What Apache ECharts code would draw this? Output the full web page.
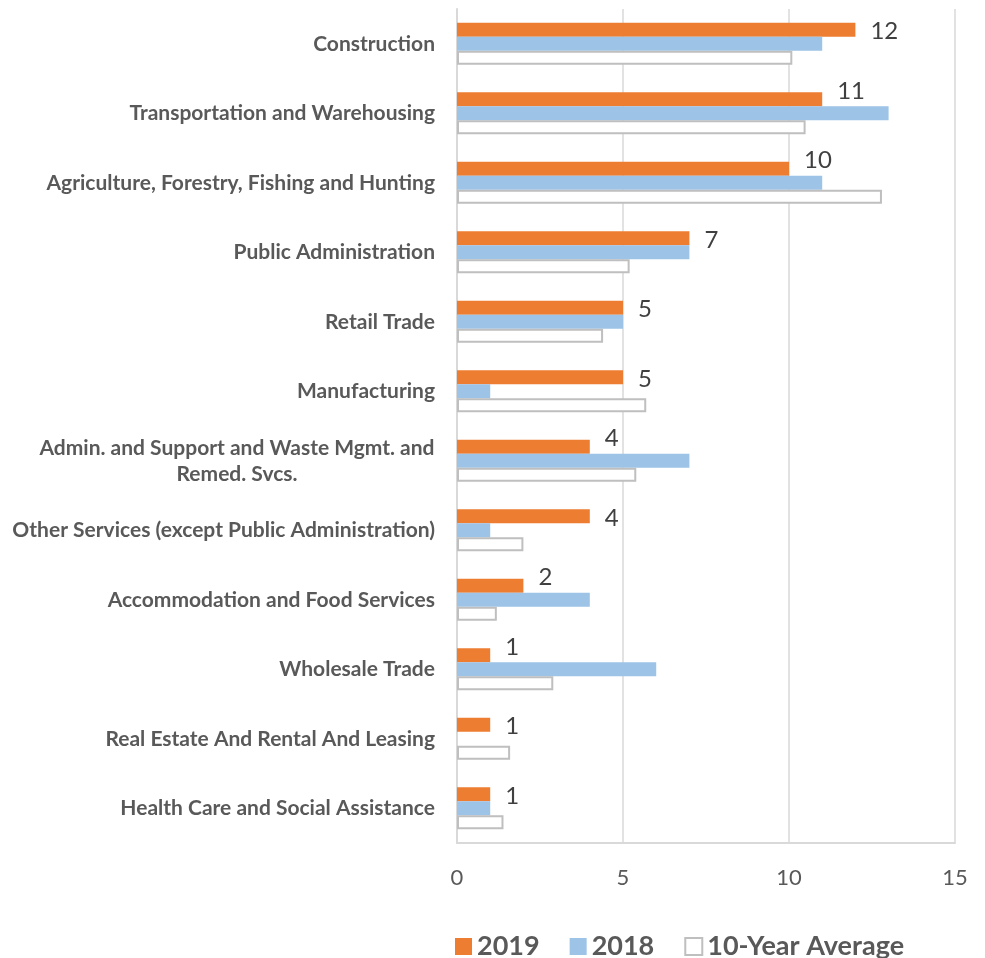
<!DOCTYPE html>
<html>
<head>
<meta charset="utf-8">
<script src="https://cdn.jsdelivr.net/npm/echarts@6/dist/echarts.min.js"></script>
<style>
  html, body { margin: 0; padding: 0; background: #fff; }
  #chart { width: 985px; height: 958px; }
</style>
</head>
<body>
<div id="chart"></div>
<script>
const industries = [
  'Construction',
  'Transportation and Warehousing',
  'Agriculture, Forestry, Fishing and Hunting',
  'Public Administration',
  'Retail Trade',
  'Manufacturing',
  'Admin. and Support and Waste Mgmt. and\nRemed. Svcs.',
  'Other Services (except Public Administration)',
  'Accommodation and Food Services',
  'Wholesale Trade',
  'Real Estate And Rental And Leasing',
  'Health Care and Social Assistance'
]
const values2019 = [12, 11, 10, 7, 5, 5, 4, 4, 2, 1, 1, 1]
const values2018 = [11, 13, 11, 7, 5, 1, 7, 1, 4, 6, 0, 1]
const tenYearAvg = [10.1, 10.5, 12.8, 5.2, 4.4, 5.7, 5.4, 2.0, 1.2, 2.9, 1.6, 1.4]
const xTicks = [0, 5, 10, 15]

// width of the longest line in the wrapped label, so the 2nd line centres under it
const ctx = document.createElement('canvas').getContext('2d')
ctx.font = 'bold 21px Lato'
const wrapWidth = Math.ceil(Math.max(...industries.filter(s => s.includes('\n'))
  .map(s => ctx.measureText(s.split('\n')[0]).width)))

const chart = echarts.init(document.getElementById('chart'))

const labelStyle = { color: '#595959', fontFamily: 'Lato', fontWeight: 'bold', fontSize: 21, lineHeight: 26 }

// value labels get nudged up when the 2018 bar below runs past them
const data2019 = values2019.map((v, i) => ({
  value: v,
  label: { offset: [0, values2018[i] > v ? -8 : 2] }
}))

const option = {
  animation: false,
  grid: { left: 457, right: 30, top: 9, bottom: 115 },
  xAxis: {
    type: 'value',
    min: xTicks[0],
    max: xTicks[xTicks.length - 1],
    interval: 5,
    axisLine: { show: true, lineStyle: { color: '#d9d9d9', width: 2 } },
    axisTick: { show: false },
    axisLabel: { color: '#595959', fontFamily: 'Lato', fontSize: 22, margin: 24 },
    splitLine: { show: true, lineStyle: { color: '#d9d9d9', width: 1.5 } }
  },
  yAxis: {
    type: 'category',
    data: industries,
    inverse: true,
    axisLine: { show: true, lineStyle: { color: '#d9d9d9', width: 2 } },
    axisTick: { show: false },
    axisLabel: {
      margin: 22,
      formatter: (val) => {
        if (!val.includes('\n')) return '{a|' + val + '}'
        return val.split('\n').map(l => '{c|' + l + '}').join('\n')
      },
      rich: {
        a: labelStyle,
        c: Object.assign({}, labelStyle, { width: wrapWidth, align: 'center' })
      }
    }
  },
  legend: {
    left: 450,
    top: 928,
    itemWidth: 17,
    itemHeight: 17,
    itemGap: 30,
    icon: 'rect',
    textStyle: { color: '#595959', fontFamily: 'Lato', fontWeight: 'bold', fontSize: 27 },
    data: ['2019', '2018', '10-Year Average']
  },
  series: [
    {
      name: '2019',
      type: 'bar',
      data: data2019,
      barWidth: 14,
      barGap: '0%',
      itemStyle: { color: '#ED7D31' },
      label: {
        show: true,
        position: 'right',
        distance: 15,
        color: '#404040',
        fontFamily: 'Lato',
        fontSize: 24
      }
    },
    {
      name: '2018',
      type: 'bar',
      data: values2018,
      barWidth: 14,
      barGap: '0%',
      itemStyle: { color: '#9DC3E6' }
    },
    {
      name: '10-Year Average',
      type: 'bar',
      data: tenYearAvg,
      barWidth: 14,
      barGap: '0%',
      itemStyle: { color: '#ffffff', borderColor: '#bfbfbf', borderWidth: 2 }
    }
  ]
}

chart.setOption(option)
</script>
</body>
</html>
